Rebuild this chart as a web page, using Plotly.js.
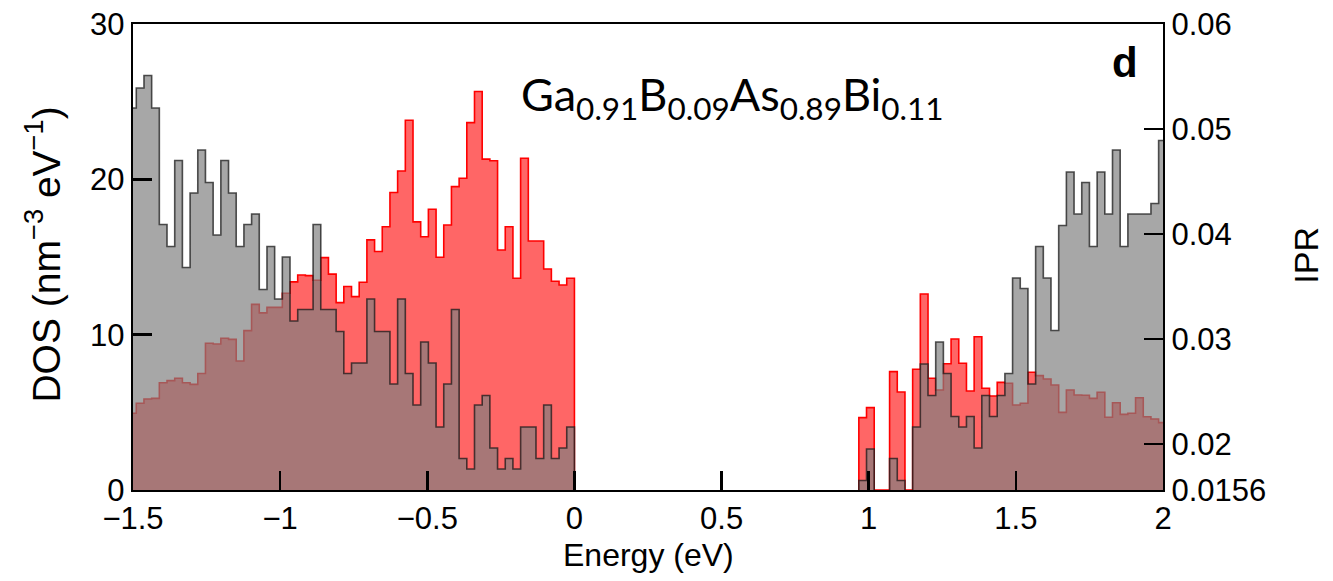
<!DOCTYPE html>
<html>
<head>
<meta charset="utf-8">
<script src="https://cdn.plot.ly/plotly-3.0.1.min.js"></script>
<style>html,body{margin:0;padding:0;background:#fff}</style>
</head>
<body>
<div id="chart" style="width:1333px;height:581px"></div>
<script>
// Histogram bins: left edge of bin i = (FIRST_BIN + i) * BIN_WIDTH (eV)
const BIN_WIDTH = 0.02612;
const VB_FIRST_BIN = -58;   // valence-band histogram ends at 0 eV
const CB_FIRST_BIN = 37;    // conduction-band histogram starts near 0.97 eV

// DOS (nm^-3 eV^-1), left axis
const vbDOS = [4.94, 5.58, 5.86, 5.9, 6.9, 7.04, 7.19, 6.9, 6.8, 7.5,
  9.45, 9.4, 9.77, 9.7, 8.3, 10.26, 11.95, 11.4, 11.76, 11.76,
  12.67, 13.4, 13.84, 13.8, 13.5, 14.96, 13.9, 12.06, 13.1, 12.45,
  13.37, 16.1, 15.35, 16.95, 19.15, 20.54, 23.8, 17.26, 16.3, 18.07,
  14.98, 17.06, 19.53, 20.07, 23.65, 25.65, 21.3, 21.2, 15.45, 16.95,
  13.63, 21.36, 16.03, 16.03, 14.23, 13.44, 13.2, 13.63];
const cbDOS = [4.66, 5.3, 0, 0, 7.62, 6.31, 0, 7.77, 12.62, 7.19,
  6.44, 8.13, 9.72, 8.16, 6.37, 9.87, 6.55, 6.05, 6.93, 6.87,
  5.47, 5.58, 7.58, 7.36, 7.15, 6.76, 5.0, 6.44, 6.12, 6.1,
  5.9, 6.29, 4.68, 5.62, 4.87, 4.94, 5.94, 4.72, 4.57, 4.34];

// IPR, right axis
const vbIPR = [0.0520, 0.0539, 0.0551, 0.0520, 0.0409, 0.0388, 0.0470, 0.0368, 0.0439, 0.0480,
  0.0449, 0.0399, 0.0470, 0.0439, 0.0388, 0.0409, 0.0419, 0.0347, 0.0388, 0.0338,
  0.0378, 0.0317, 0.0328, 0.0328, 0.0409, 0.0328, 0.0328, 0.0307, 0.0267, 0.0277,
  0.0277, 0.0338, 0.0307, 0.0307, 0.0257, 0.0338, 0.0267, 0.0237, 0.0297, 0.0277,
  0.0216, 0.0257, 0.0328, 0.0186, 0.0176, 0.0237, 0.0246, 0.0196, 0.0176, 0.0186,
  0.0176, 0.0216, 0.0216, 0.0186, 0.0237, 0.0186, 0.0196, 0.0216];
const cbIPR = [0.0165, 0.0195, 0, 0, 0.0186, 0.0165, 0, 0.0216, 0.0276, 0.0246,
  0.0297, 0.0267, 0.0226, 0.0216, 0.0226, 0.0196, 0.0246, 0.0226, 0.0246, 0.0267,
  0.0358, 0.0348, 0.0257, 0.0388, 0.0358, 0.0308, 0.0408, 0.0459, 0.0419, 0.0449,
  0.0388, 0.0459, 0.0419, 0.0480, 0.0388, 0.0419, 0.0419, 0.0419, 0.0429, 0.0489];

const xTicks = [-1.5, -1, -0.5, 0, 0.5, 1, 1.5, 2];
const yTicks = [0, 10, 20, 30];
const iprTicks = [0.0156, 0.02, 0.03, 0.04, 0.05, 0.06];
const iprTickText = ['0.0156', '0.02', '0.03', '0.04', '0.05', '0.06'];

function stepXY(firstBin, vals) {
  const x = [], y = [];
  x.push(firstBin * BIN_WIDTH); y.push(0);
  vals.forEach((v, i) => { x.push((firstBin + i) * BIN_WIDTH); y.push(v); });
  const end = (firstBin + vals.length) * BIN_WIDTH;
  x.push(end); y.push(vals[vals.length - 1]);
  x.push(end); y.push(0);
  return {x, y};
}

function dosTrace(first, vals) {
  const s = stepXY(first, vals);
  return {x: s.x, y: s.y, type: 'scatter', mode: 'lines', yaxis: 'y',
    line: {shape: 'hv', color: '#ff0000', width: 1.6},
    fill: 'tozeroy', fillcolor: 'rgba(255,0,0,0.6)', hoverinfo: 'skip'};
}
function iprTrace(first, vals) {
  const s = stepXY(first, vals);
  return {x: s.x, y: s.y, type: 'scatter', mode: 'lines', yaxis: 'y2',
    line: {shape: 'hv', color: 'rgba(25,25,25,0.75)', width: 1.6},
    fill: 'tozeroy', fillcolor: 'rgba(128,128,128,0.69)', hoverinfo: 'skip'};
}

const data = [dosTrace(VB_FIRST_BIN, vbDOS), dosTrace(CB_FIRST_BIN, cbDOS),
              iprTrace(VB_FIRST_BIN, vbIPR), iprTrace(CB_FIRST_BIN, cbIPR)];

const FONT = '"Liberation Sans", Arial, Helvetica, sans-serif';
const axisCommon = {ticks: 'inside', ticklen: 19, tickwidth: 2.5, tickcolor: '#000',
  showline: true, linewidth: 2.2, linecolor: '#000', showgrid: false, zeroline: false,
  tickfont: {family: FONT, size: 31, color: '#000'}};

const layout = {
  width: 1333, height: 581,
  margin: {l: 133, r: 170, t: 24, b: 91},
  paper_bgcolor: '#fff', plot_bgcolor: '#fff', showlegend: false,
  font: {family: FONT, color: '#000'},
  xaxis: Object.assign({}, axisCommon, {range: [-1.5, 2], tickmode: 'array', tickvals: xTicks, mirror: true}),
  yaxis: Object.assign({}, axisCommon, {range: [0, 30], tickmode: 'array', tickvals: yTicks}),
  yaxis2: Object.assign({}, axisCommon, {range: [0.0156, 0.06], overlaying: 'y', side: 'right',
    tickmode: 'array', tickvals: iprTicks, ticktext: iprTickText}),
  annotations: [
    {text: 'Ga<sub>0.91</sub>B<sub>0.09</sub>As<sub>0.89</sub>Bi<sub>0.11</sub>',
     xref: 'paper', yref: 'paper', x: 0.5816, y: 0.843, xanchor: 'center', yanchor: 'middle',
     showarrow: false, font: {family: 'Lato, "Open Sans", sans-serif', size: 45, color: '#000'}},
    {text: '<b>d</b>', xref: 'paper', yref: 'paper', x: 0.963, y: 0.918,
     xanchor: 'center', yanchor: 'middle', showarrow: false,
     font: {family: FONT, size: 42, color: '#000'}},
    {text: 'Energy (eV)', xref: 'paper', yref: 'paper', x: 0.5, y: -0.1395,
     xanchor: 'center', yanchor: 'middle', showarrow: false, font: {family: FONT, size: 32}},
    {text: 'DOS (nm<sup>−3</sup> eV<sup>−1</sup>)', xref: 'paper', yref: 'paper', x: -0.088, y: 0.506,
     xanchor: 'center', yanchor: 'middle', textangle: -90, showarrow: false, font: {family: FONT, size: 39}},
    {text: 'IPR', xref: 'paper', yref: 'paper', x: 1.138, y: 0.503,
     xanchor: 'center', yanchor: 'middle', textangle: -90, showarrow: false, font: {family: FONT, size: 34}}
  ]
};

Plotly.newPlot('chart', data, layout, {displayModeBar: false, staticPlot: true});
</script>
</body>
</html>
